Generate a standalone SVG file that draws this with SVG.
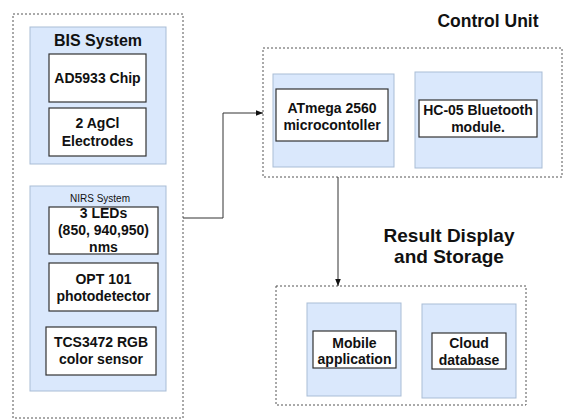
<svg xmlns="http://www.w3.org/2000/svg" width="563" height="420" viewBox="0 0 563 420">
<defs>
<style>
.grp{fill:none;stroke:#555;stroke-width:1;stroke-dasharray:2 2}
.blue{fill:#dae8fc;stroke:#a9bdd6;stroke-width:1}
.box{fill:#fff;stroke:#333;stroke-width:1.2}
.t{font-family:"Liberation Sans",Arial,sans-serif;font-weight:bold;font-size:14px;fill:#111;text-anchor:middle}
.title{font-family:"Liberation Sans",Arial,sans-serif;font-weight:bold;fill:#111;text-anchor:middle}
.small{font-family:"Liberation Sans",Arial,sans-serif;font-size:10px;fill:#111;text-anchor:middle}
.wire{fill:none;stroke:#333;stroke-width:1}
</style>
<marker id="arr" viewBox="0 0 10 10" refX="10" refY="5" markerWidth="7" markerHeight="7" orient="auto" markerUnits="userSpaceOnUse">
<path d="M0,1 L10,5 L0,9 Z" fill="#111"/>
</marker>
</defs>
<rect width="563" height="420" fill="#fff"/>

<g id="sensing-group">
<rect class="grp" x="13" y="14" width="170" height="404"/>
</g>

<g id="bis-system">
<rect class="blue" x="30" y="27" width="136" height="137"/>
<text class="title" x="98" y="46" font-size="16">BIS System</text>
</g>
<g id="ad5933">
<rect class="box" x="49" y="54" width="97" height="48"/>
<text class="t" x="97.500" y="83">AD5933 Chip</text>
</g>
<g id="agcl">
<rect class="box" x="49" y="108" width="97" height="48"/>
<text class="t" x="97.500" y="128">2 AgCl</text>
<text class="t" x="97.500" y="146">Electrodes</text>
</g>

<g id="nirs-system">
<rect class="blue" x="30" y="186" width="136" height="205"/>
<text class="small" x="100" y="202">NIRS System</text>
</g>
<g id="leds">
<rect class="box" x="49" y="207" width="109" height="47"/>
<text class="t" x="103.500" y="218">3 LEDs</text>
<text class="t" x="103.500" y="235">(850, 940,950)</text>
<text class="t" x="103.500" y="252">nms</text>
</g>
<g id="opt101">
<rect class="box" x="49" y="263" width="109" height="48"/>
<text class="t" x="103.500" y="284">OPT 101</text>
<text class="t" x="103.500" y="301">photodetector</text>
</g>
<g id="tcs3472">
<rect class="box" x="46" y="327" width="110" height="48"/>
<text class="t" x="101" y="347">TCS3472 RGB</text>
<text class="t" x="101" y="364">color sensor</text>
</g>

<g id="control-unit">
<text class="title" x="488" y="27" font-size="17.500">Control Unit</text>
<rect class="grp" x="263" y="48" width="299" height="129"/>
</g>
<g id="atmega-panel">
<rect class="blue" x="273" y="74" width="121" height="93"/>
</g>
<g id="atmega">
<rect class="box" x="276" y="89" width="112" height="52"/>
<text class="t" x="332" y="113">ATmega 2560</text>
<text class="t" x="332" y="130">microcontoller</text>
</g>
<g id="hc05-panel">
<rect class="blue" x="415" y="72" width="127" height="96"/>
</g>
<g id="hc05">
<rect class="box" x="419" y="100" width="118" height="37"/>
<text class="t" x="478" y="115">HC-05 Bluetooth</text>
<text class="t" x="478" y="132">module.</text>
</g>

<g id="result-group">
<text class="title" x="449" y="242" font-size="19">Result Display</text>
<text class="title" x="449" y="263" font-size="19">and Storage</text>
<rect class="grp" x="276" y="286" width="250" height="119"/>
</g>
<g id="mobile-panel">
<rect class="blue" x="307" y="303" width="94" height="93"/>
</g>
<g id="mobile">
<rect class="box" x="313" y="331" width="83" height="37"/>
<text class="t" x="354.500" y="348">Mobile</text>
<text class="t" x="354.500" y="364">application</text>
</g>
<g id="cloud-panel">
<rect class="blue" x="422" y="304" width="94" height="94"/>
</g>
<g id="cloud">
<rect class="box" x="432" y="333" width="74" height="36"/>
<text class="t" x="469" y="348">Cloud</text>
<text class="t" x="469" y="365">database</text>
</g>

<g id="connectors">
<path class="wire" d="M183,218 H223 V113 H263" marker-end="url(#arr)"/>
<path class="wire" d="M338,177 V286" marker-end="url(#arr)"/>
</g>
</svg>
